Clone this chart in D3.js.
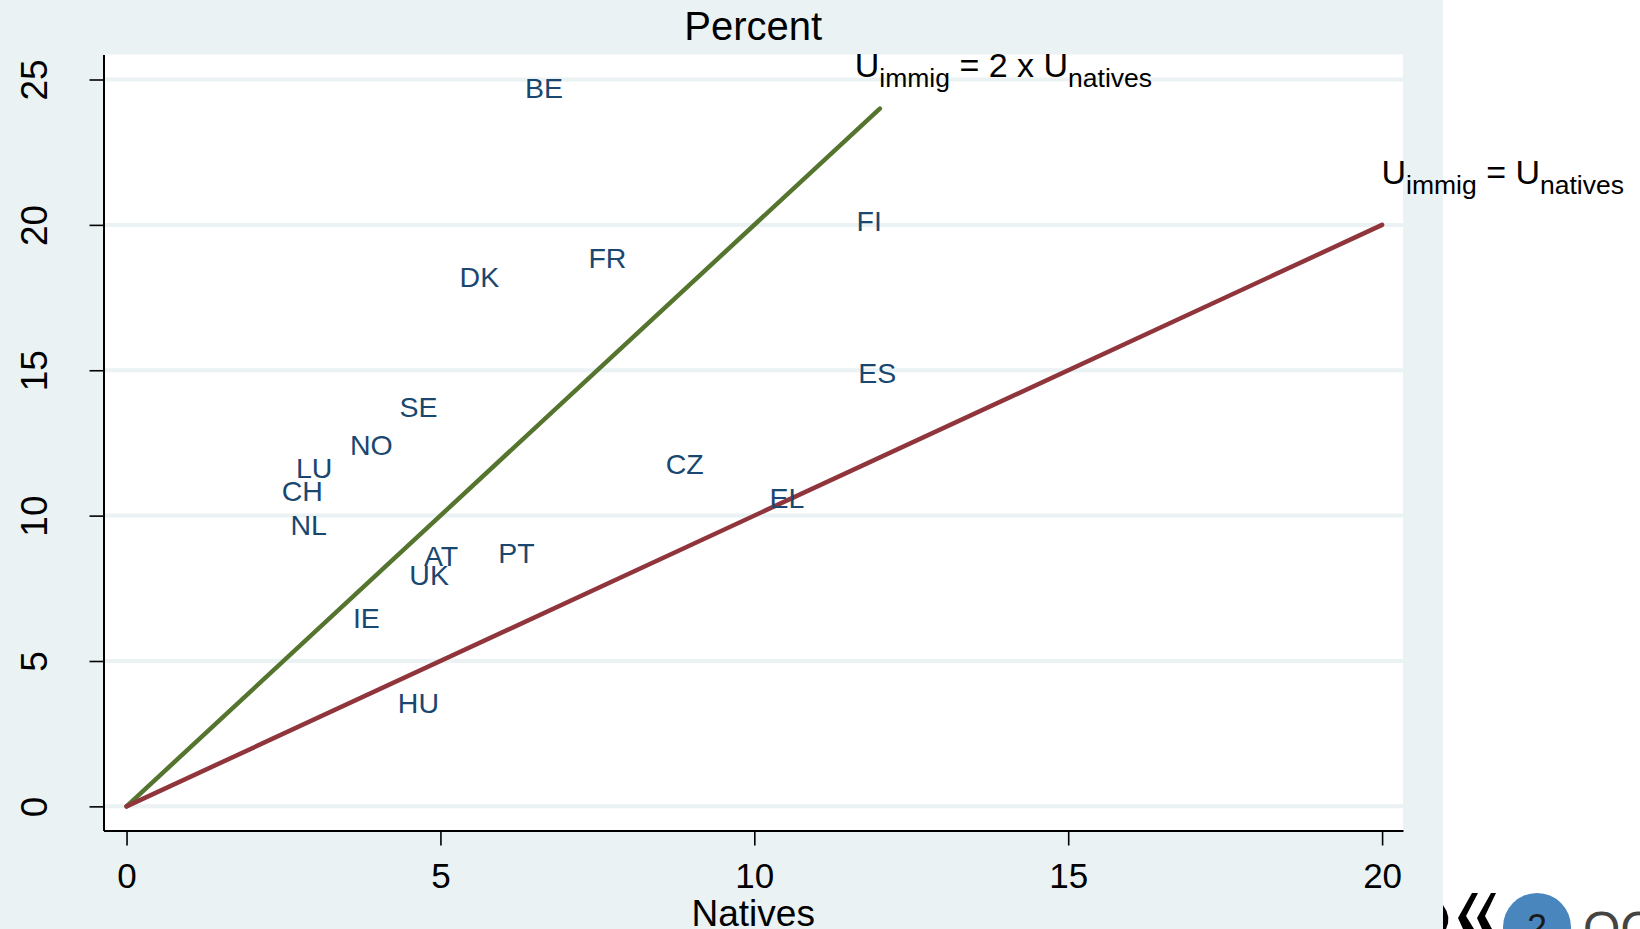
<!DOCTYPE html>
<html>
<head>
<meta charset="utf-8">
<script src="https://cdn.jsdelivr.net/npm/d3@7"></script>
<style>
  html, body { margin: 0; padding: 0; background: #fff; }
  svg { display: block; font-family: "Liberation Sans", Arial, sans-serif; }
</style>
</head>
<body>
<div id="chart"></div>
<script>
// countries: unemployment rate of natives (x) vs immigrants (y), percent
var countries = ["BE", "FR", "DK", "FI", "ES", "SE", "NO", "LU", "CH", "NL", "CZ", "EL", "AT", "UK", "PT", "IE", "HU"];
var natives   = [6.65, 7.66, 5.62, 11.83, 11.96, 4.65, 3.90, 2.99, 2.80, 2.90, 8.89, 10.52, 5.01, 4.82, 6.21, 3.82, 4.65];
var immigrants = [24.70, 18.86, 18.21, 20.15, 14.90, 13.75, 12.45, 11.66, 10.87, 9.68, 11.77, 10.62, 8.63, 7.95, 8.72, 6.48, 3.57];

// reference lines: U_immig = k x U_natives, drawn from 0 to xEnd
var refFactor = [2, 1];
var refEnd = [12, 20];
var refColor = ["#55752f", "#90353b"];
var refLabelPos = [[11.6, 25.08], [19.99, 21.4]];
var refLabelParts = [
  [["U", 0], ["immig", 1], [" = 2 x U", 0], ["natives", 1]],
  [["U", 0], ["immig", 1], [" = U", 0], ["natives", 1]]
];

var xTicks = [0, 5, 10, 15, 20];
var yTicks = [0, 5, 10, 15, 20, 25];

var W = 1640, H = 929,
    bg = "#eaf2f3",
    margin = { top: 54.5, right: 237, bottom: 98.5, left: 103.5 };

var svg = d3.select("#chart").append("svg")
    .attr("width", W).attr("height", H);

// graph region background (the slide is white to the right)
svg.append("rect").attr("x", 0).attr("y", 0)
    .attr("width", 1443).attr("height", H).attr("fill", bg);

var x = d3.scaleLinear()
    .domain([-0.367, 20.333])
    .range([margin.left, W - margin.right]);
var y = d3.scaleLinear()
    .domain([-0.83, 25.86])
    .range([H - margin.bottom, margin.top]);

// plot region
svg.append("rect")
    .attr("x", x.range()[0]).attr("y", y.range()[1])
    .attr("width", x.range()[1] - x.range()[0])
    .attr("height", y.range()[0] - y.range()[1])
    .attr("fill", "#fff");

// gridlines
svg.append("g").selectAll("line").data(yTicks).enter().append("line")
    .attr("x1", x.range()[0]).attr("x2", x.range()[1])
    .attr("y1", function(d) { return y(d); })
    .attr("y2", function(d) { return y(d); })
    .attr("stroke", bg).attr("stroke-width", 4);

// axes
var gx = svg.append("g")
    .attr("transform", "translate(0," + y.range()[0] + ")")
    .call(d3.axisBottom(x).tickValues(xTicks).tickSize(15).tickPadding(10).tickSizeOuter(0));
gx.select(".domain").attr("stroke", "#000").attr("stroke-width", 2);
gx.selectAll(".tick line").attr("stroke", "#000").attr("stroke-width", 1.6);
gx.selectAll(".tick text")
    .attr("font-size", 35).attr("fill", "#000")
    .attr("font-family", "Liberation Sans, Arial, sans-serif")
    .attr("dy", null).attr("y", 57);

var gy = svg.append("g")
    .attr("transform", "translate(" + x.range()[0] + ",0)")
    .call(d3.axisLeft(y).tickValues(yTicks).tickSize(14).tickSizeOuter(0));
gy.select(".domain").attr("stroke", "#000").attr("stroke-width", 2);
gy.selectAll(".tick line").attr("stroke", "#000").attr("stroke-width", 1.6);
gy.selectAll(".tick text")
    .attr("font-size", 37).attr("fill", "#000")
    .attr("font-family", "Liberation Sans, Arial, sans-serif")
    .attr("x", null).attr("dy", null)
    .attr("text-anchor", "middle")
    .attr("transform", "translate(-57,0) rotate(-90)");

// titles
svg.append("text")
    .attr("x", (x.range()[0] + x.range()[1]) / 2).attr("y", 40)
    .attr("text-anchor", "middle").attr("font-size", 40)
    .text("Percent");
svg.append("text")
    .attr("x", (x.range()[0] + x.range()[1]) / 2).attr("y", 926)
    .attr("text-anchor", "middle").attr("font-size", 37)
    .text("Natives");

// reference lines
var line = d3.line()
    .x(function(d) { return x(d[0]); })
    .y(function(d) { return y(d[1]); });

refFactor.forEach(function(k, i) {
    svg.append("path")
        .datum([[0, 0], [refEnd[i], k * refEnd[i]]])
        .attr("d", line)
        .attr("fill", "none")
        .attr("stroke", refColor[i])
        .attr("stroke-width", 4.5)
        .attr("stroke-linecap", "round");

    var t = svg.append("text")
        .attr("x", x(refLabelPos[i][0]))
        .attr("y", y(refLabelPos[i][1]))
        .attr("font-size", 34).attr("fill", "#000");
    refLabelParts[i].forEach(function(p, j) {
        var prev = j > 0 ? refLabelParts[i][j - 1][1] : 0;
        t.append("tspan")
            .attr("font-size", p[1] ? 26.5 : 34)
            .attr("dy", p[1] - prev ? (p[1] ? 9.5 : -9.5) : 0)
            .style("white-space", "pre")
            .text(p[0]);
    });
});

// country labels (marker-free, centred on the point)
svg.append("g").selectAll("text").data(countries).enter().append("text")
    .attr("x", function(d, i) { return x(natives[i]); })
    .attr("y", function(d, i) { return y(immigrants[i]); })
    .attr("dy", "0.36em")
    .attr("text-anchor", "middle")
    .attr("font-size", 28.5)
    .attr("fill", "#1a476f")
    .text(function(d) { return d; });

// slide footer: page number badge and logo fragment
var foot = svg.append("g");
foot.append("path")
    .attr("d", "M1443,905 Q1452,917 1446,929 L1443,929 Z").attr("fill", "#000");
foot.append("path")
    .attr("d", "M1472,893 L1478,893 L1466,916 L1474,929 L1463,929 L1458,918 Z").attr("fill", "#000");
foot.append("path")
    .attr("d", "M1491,893 L1496,893 L1485,916 L1492,929 L1482,929 L1477,918 Z").attr("fill", "#000");
foot.append("circle")
    .attr("cx", 1537).attr("cy", 927).attr("r", 34).attr("fill", "#4a86be");
foot.append("text")
    .attr("x", 1537).attr("y", 940).attr("text-anchor", "middle")
    .attr("font-size", 36).attr("fill", "#1a1a1a").text("2");
foot.append("text")
    .attr("x", 1583).attr("y", 945)
    .attr("font-size", 48).attr("fill", "#444").text("OCDE");
</script>
</body>
</html>
